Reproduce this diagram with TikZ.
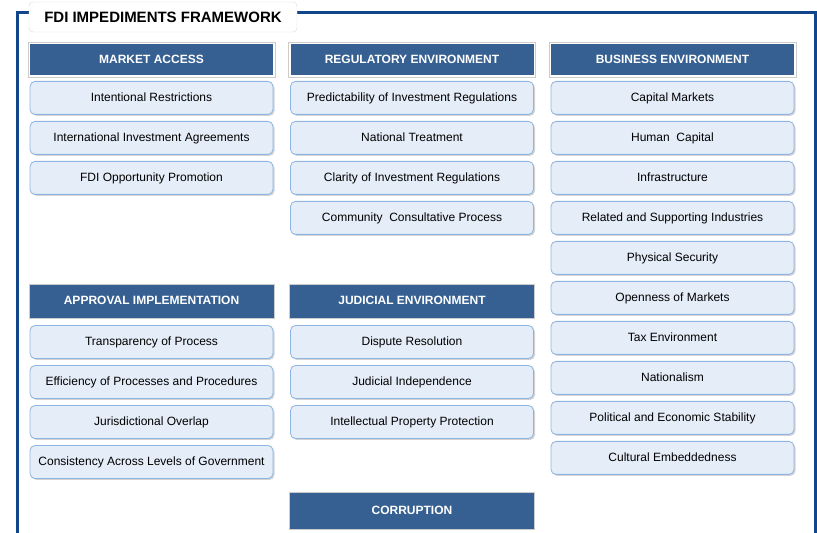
\documentclass[tikz,border=0pt]{standalone}
\usepackage{fontspec}
\setmainfont{Liberation Sans}
\usetikzlibrary{positioning, shadows}
\definecolor{fdiBlue}{RGB}{54, 96, 146}
\definecolor{frameBlue}{RGB}{18, 70, 138}
\definecolor{itemFill}{RGB}{229, 237, 248}
\definecolor{itemEdge}{RGB}{141, 180, 226}
\colorlet{headEdge}{gray!40}
\tikzset{
    header/.style={fill=fdiBlue, text=white, font=\bfseries\fontsize{12}{14}\selectfont,
        minimum width=245pt, minimum height=34pt, inner sep=0pt,
        text height=9.6pt, text depth=1.6pt},
    top header/.style={header, draw=white, line width=2pt, minimum height=33pt},
    low header/.style={header, draw=headEdge, line width=0.6pt},
    item/.style={fill=itemFill, draw=itemEdge, line width=0.8pt, rounded corners=5pt,
        minimum width=243pt, minimum height=33pt, inner sep=0pt,
        font=\fontsize{12}{14}\selectfont, text height=9.6pt, text depth=1.6pt,
        drop shadow={shadow xshift=1.5pt, shadow yshift=-1.5pt, opacity=0.35}},
    frame/.style={draw=frameBlue, line width=3pt}
}

\begin{document}
\begin{tikzpicture}[x=1pt, y=1pt, node distance=6.2pt]
    \useasboundingbox (0,0) rectangle (817,533);

    % Outer frame, open at the bottom
    \draw[frame] (17,0) |- (815.5,520) -- (815.5,0);

    % Title tab sitting on the frame
    \node[fill=white, draw=gray!30, rounded corners=4pt, minimum width=268pt, minimum height=30pt,
        font=\bfseries\fontsize{15}{17}\selectfont] (title) at (163,516) {FDI IMPEDIMENTS FRAMEWORK};

    % Market access
    \node[top header] (ma) at (151.5,473.5) {MARKET ACCESS};
    \node[item, below=4pt of ma] (ma1) {Intentional Restrictions};
    \node[item, below=of ma1] (ma2) {International Investment Agreements};
    \node[item, below=of ma2] (ma3) {FDI Opportunity Promotion};

    % Regulatory environment
    \node[top header] (re) at (412,473.5) {REGULATORY ENVIRONMENT};
    \node[item, below=4pt of re] (re1) {Predictability of Investment Regulations};
    \node[item, below=of re1] (re2) {National Treatment};
    \node[item, below=of re2] (re3) {Clarity of Investment Regulations};
    \node[item, below=of re3] (re4) {Community\ \ Consultative Process};

    % Business environment
    \node[top header] (be) at (672.5,473.5) {BUSINESS ENVIRONMENT};
    \node[item, below=4pt of be] (be1) {Capital Markets};
    \node[item, below=of be1] (be2) {Human\ \ Capital};
    \node[item, below=of be2] (be3) {Infrastructure};
    \node[item, below=of be3] (be4) {Related and Supporting Industries};
    \node[item, below=of be4] (be5) {Physical Security};
    \node[item, below=of be5] (be6) {Openness of Markets};
    \node[item, below=of be6] (be7) {Tax Environment};
    \node[item, below=of be7] (be8) {Nationalism};
    \node[item, below=of be8] (be9) {Political and Economic Stability};
    \node[item, below=of be9] (be10) {Cultural Embeddedness};

    % thin grey edge round the top headers
    \foreach \h in {ma,re,be}
        \draw[headEdge, line width=0.6pt] (\h.south west) rectangle (\h.north east);

    % Approval implementation
    \node[low header] (ai) at (151.5,232) {APPROVAL IMPLEMENTATION};
    \node[item, below=6.8pt of ai] (ai1) {Transparency of Process};
    \node[item, below=of ai1] (ai2) {Efficiency of Processes and Procedures};
    \node[item, below=of ai2] (ai3) {Jurisdictional Overlap};
    \node[item, below=of ai3] (ai4) {Consistency Across Levels of Government};

    % Judicial environment
    \node[low header] (je) at (412,232) {JUDICIAL ENVIRONMENT};
    \node[item, below=6.8pt of je] (je1) {Dispute Resolution};
    \node[item, below=of je1] (je2) {Judicial Independence};
    \node[item, below=of je2] (je3) {Intellectual Property Protection};

    % Corruption
    \node[low header, minimum height=37pt] (co) at (412,22.5) {CORRUPTION};
\end{tikzpicture}
\end{document}
